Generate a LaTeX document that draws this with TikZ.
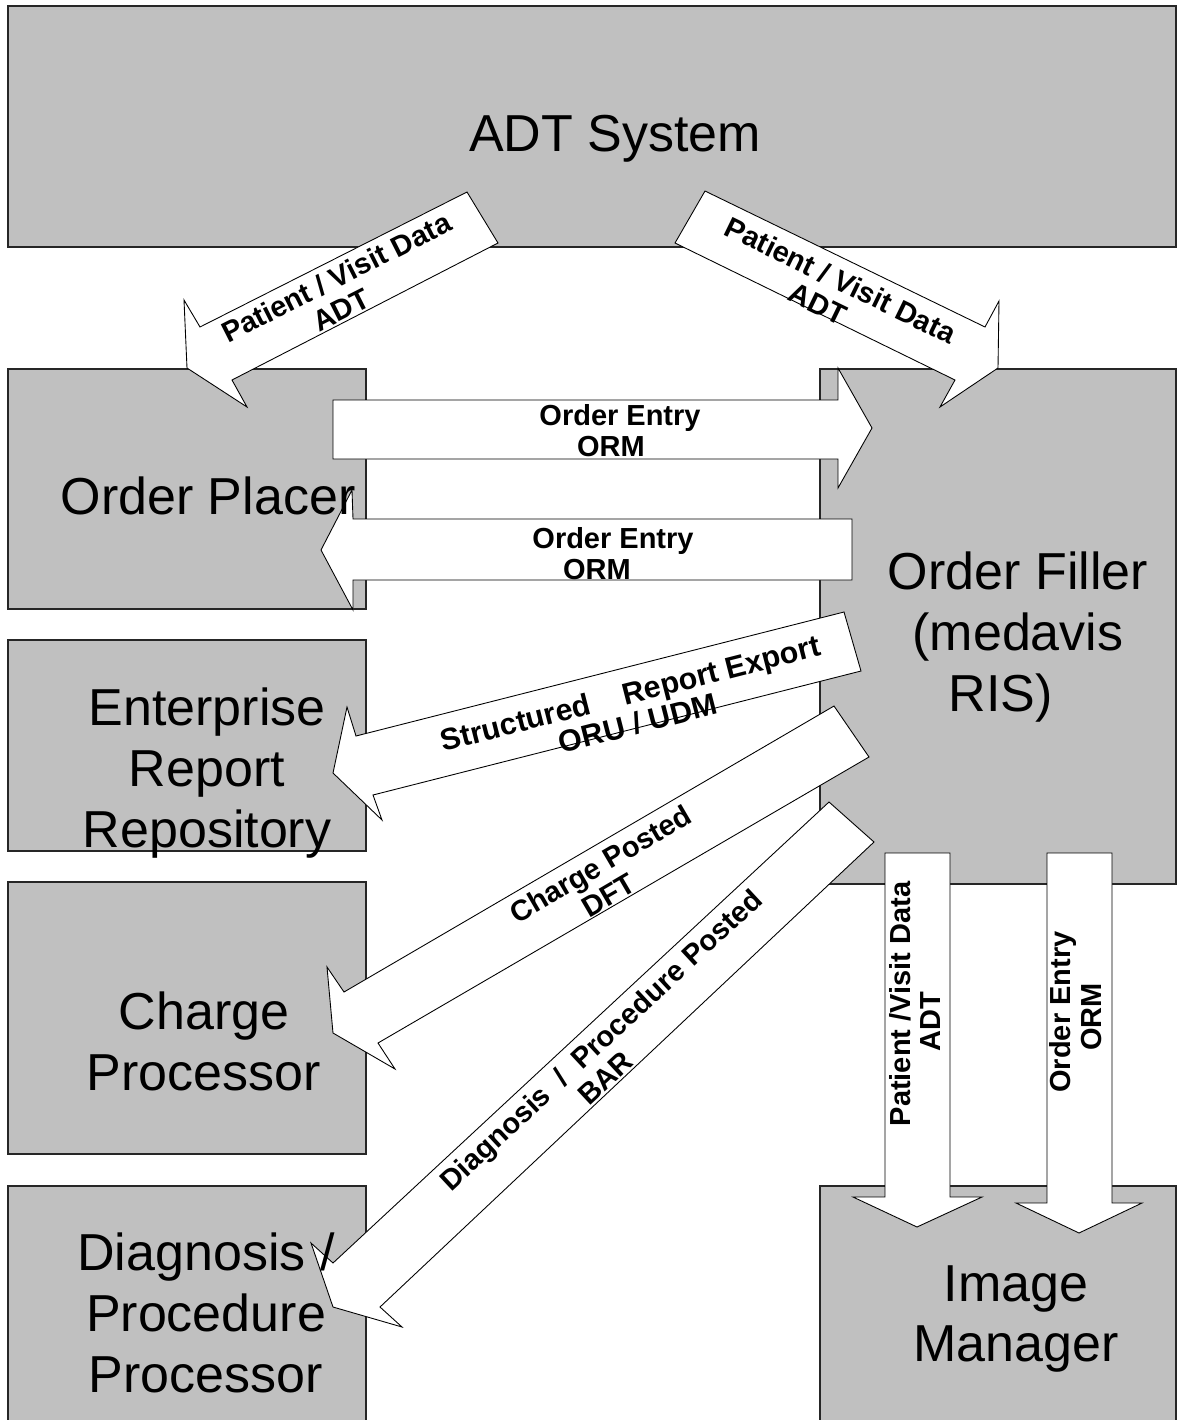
\documentclass[tikz,border=0pt]{standalone}
\usepackage{fontspec}
\setmainfont{Liberation Sans}
\usepackage{tikz}
\usetikzlibrary{fit}
\definecolor{boxgray}{HTML}{C0C0C0}
\tikzset{
	system/.style={draw=black!85,fill=boxgray,line width=0.7pt,inner sep=0pt},
	system text/.style={font=\fontsize{29.6}{34.7}\selectfont,align=center,inner sep=0pt},
	msg/.style={draw=black,fill=white,line width=0.5pt,line join=miter},
	msg text/.style={font=\fontsize{16.5}{17.6}\selectfont\bfseries,align=center,inner sep=0pt}
}

\begin{document}
\begin{tikzpicture}[x=0.02cm,y=-0.02cm]
  \useasboundingbox (0,0) rectangle (1177,1420);

  % systems
  \node[system,fit={(8,6) (1176,247)}] (adt) {};
  \node[system,fit={(8,369) (366,609)}] (placer) {};
  \node[system,fit={(8,640) (366,851)}] (repository) {};
  \node[system,fit={(8,882) (366,1154)}] (charge) {};
  \node[system,fit={(8,1186) (366,1425)}] (diagnosis) {};
  \node[system,fit={(820,369) (1176,884)}] (filler) {};
  \node[system,fit={(820,1186) (1176,1425)}] (imgmgr) {};

  % messages
  \filldraw[msg] (467,192) -- (200,327) -- (184,300) -- (187,368) -- (247,407) -- (232,380) -- (498,243) -- cycle;
  \filldraw[msg] (705,191) -- (985,327) -- (999,301) -- (998,368) -- (940,407) -- (955,380) -- (675,243) -- cycle;
  \filldraw[msg] (333,400) -- (838,400) -- (838,368) -- (872,428) -- (838,488) -- (838,459) -- (333,459) -- cycle;
  \filldraw[msg] (852,519) -- (353,519) -- (352,490) -- (321,550) -- (353,610) -- (353,580) -- (852,580) -- cycle;
  \filldraw[msg] (844,612) -- (356,736) -- (347,707) -- (333,773) -- (382,820) -- (373,795) -- (861,671) -- cycle;
  \filldraw[msg] (834,706) -- (344,992) -- (327,967) -- (333,1033) -- (395,1069) -- (378,1043) -- (869,757) -- cycle;
  \filldraw[msg] (829,802) -- (333,1263) -- (311,1243) -- (333,1307) -- (402,1327) -- (380,1307) -- (874,842) -- cycle;
  \filldraw[msg] (885,853) -- (885,1197) -- (853,1197) -- (917,1227) -- (982,1197) -- (950,1197) -- (950,853) -- cycle;
  \filldraw[msg] (1047,853) -- (1047,1203) -- (1016,1203) -- (1079,1233) -- (1142,1203) -- (1112,1203) -- (1112,853) -- cycle;

  % message labels
  \node[msg text,rotate=26.8] (adt placer) at (343,291) {Patient / Visit Data\\ADT\hspace*{0.4cm}};
  \node[msg text,rotate=-25.9] (adt filler) at (834,294) {Patient / Visit Data\\ADT\hspace*{0.4cm}};
  \node[msg text] (order out) at (620,431) {Order Entry\\ORM\hspace*{0.36cm}};
  \node[msg text] (order back) at (613,554) {Order Entry\\ORM\hspace*{0.64cm}};
  \node[msg text,rotate=14.3,font=\fontsize{17.3}{17.6}\selectfont\bfseries] (report) at (634,708) {Structured~~~~Report Export\\ORU / UDM};
  \node[msg text,rotate=30.3] (dft) at (608,877) {Charge Posted\\DFT\hspace*{0.36cm}};
  \node[msg text,rotate=42.9] (bar) at (611,1051) {Diagnosis~~/~~Procedure Posted\\BAR\hspace*{0.9cm}};
  \node[msg text,rotate=90] (adt img) at (915,1004) {Patient /Visit Data\\ADT\hspace*{0.72cm}};
  \node[msg text,rotate=90] (orm img) at (1076,1012) {Order Entry\\ORM\hspace*{0.2cm}};

  % system names
  \node[system text] (adt name) at (615,139) {ADT System};
  \node[system text] (placer name) at (208,496) {Order Placer};
  \node[system text] (filler name) at (1018,637) {Order Filler\\(medavis\\RIS)\hspace*{0.7cm}};
  \node[system text] (repository name) at (207,773) {Enterprise\\Report\\Repository};
  \node[system text] (charge name) at (204,1041) {Charge\\Processor};
  \node[system text] (diagnosis name) at (206,1313) {Diagnosis /\\Procedure\\Processor};
  \node[system text] (imgmgr name) at (1016,1319) {Image\\Manager};
\end{tikzpicture}
\end{document}
